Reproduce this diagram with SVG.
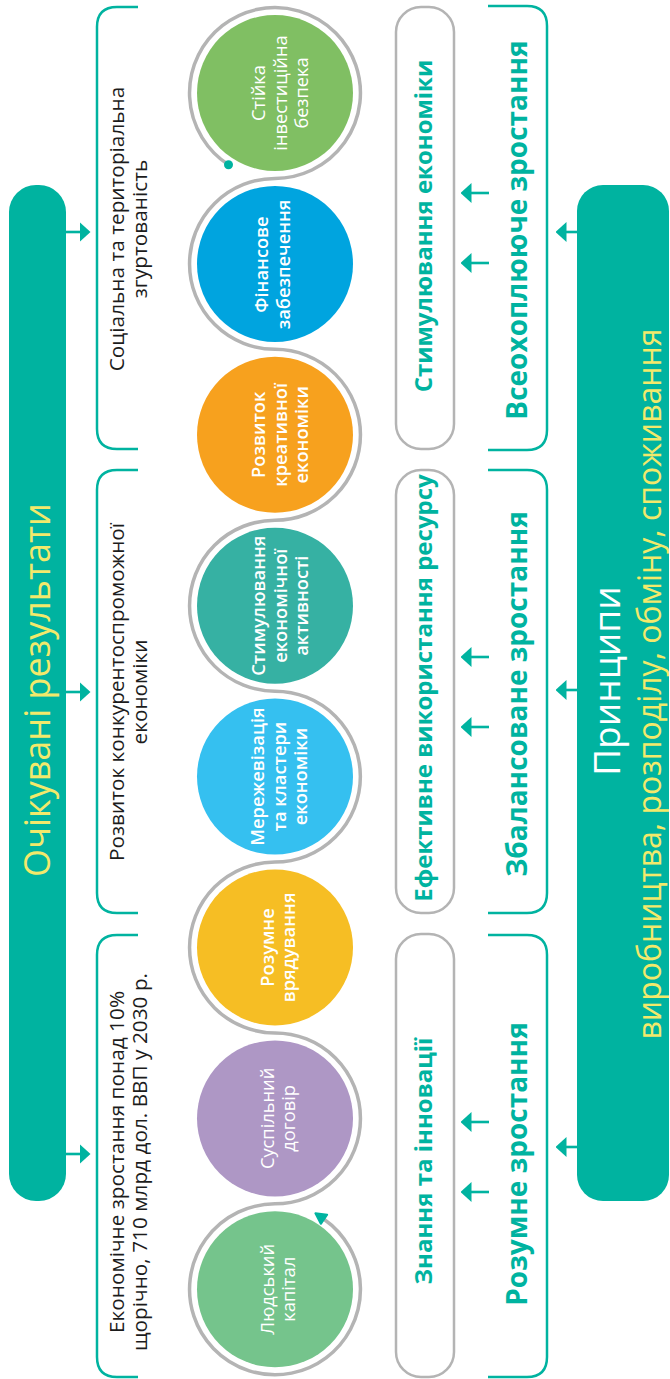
<svg xmlns="http://www.w3.org/2000/svg" width="670" height="1379" viewBox="0 0 670 1379">
<style>
text{font-family:"Open Sans","Noto Sans","DejaVu Sans",sans-serif;text-anchor:middle}
.bar{fill:#00B3A0}
.title{fill:#F2E96B;font-size:36px}
.princ{fill:#fff;font-size:37px}
.princ2{fill:#F2E96B;font-size:32px}
.goal{fill:#1c1c1c;font-size:20.8px}
.growth{fill:#00B3A0;font-size:28px;font-weight:700}
.box{fill:none;stroke:#B4B4B4;stroke-width:2.5}
.boxt{fill:#00B3A0;font-size:24px;font-weight:700}
.br{fill:none;stroke:#00B3A0;stroke-width:2.5}
.ct{fill:#fff;font-size:18.3px}
.sb{font-weight:600}
.arr{stroke:#00B3A0;stroke-width:2.6;fill:none}
.snake{fill:none;stroke:#B4B4B4;stroke-width:3.5}
</style>
<defs>
<marker id="tip" viewBox="0 0 11 20" refX="0.5" refY="10" markerWidth="11" markerHeight="20" markerUnits="userSpaceOnUse" orient="auto">
<path d="M0,0 L11,10 L0,20 Z" fill="#00B3A0"/>
</marker>
<marker id="snakeEnd" viewBox="0 0 14 14" refX="2" refY="7" markerWidth="14" markerHeight="14" markerUnits="userSpaceOnUse" orient="auto">
<path d="M2,1.5 L12.5,7 L2,12.5 Z" fill="#00B3A0" stroke="#00B3A0" stroke-width="2" stroke-linejoin="round"/>
</marker>
</defs>

<g id="results">
<rect class="bar" x="9" y="185" width="57" height="1016" rx="27"/>
<text class="title" transform="translate(50,690) rotate(-90)">Очікувані результати</text>
</g>

<g id="goal-social">
<path class="br" d="M138,7 H117 Q97,7 97,27 V429 Q97,449 117,449 H138"/>
<text class="goal" transform="translate(124,229) rotate(-90)"><tspan x="0" y="0">Соціальна та територіальна</tspan><tspan x="0" y="23">згуртованість</tspan></text>
</g>
<g id="goal-competitive">
<path class="br" d="M138,470 H117 Q97,470 97,490 V893 Q97,913 117,913 H138"/>
<text class="goal" transform="translate(124,692) rotate(-90)"><tspan x="0" y="0">Розвиток конкурентоспроможної</tspan><tspan x="0" y="23">економіки</tspan></text>
</g>
<g id="goal-growth">
<path class="br" d="M138,935 H117 Q97,935 97,955 V1357 Q97,1377 117,1377 H138"/>
<text class="goal" transform="translate(124,1162) rotate(-90)"><tspan x="0" y="0">Економічне зростання понад 10%</tspan><tspan x="0" y="23">щорічно, 710 млрд дол. ВВП у 2030 р.</tspan></text>
</g>

<g id="circle-investment">
<circle cx="275" cy="93" r="78" fill="#80BF63"/>
<text class="ct" transform="translate(265,93) rotate(-90)"><tspan x="0" y="0">Стійка</tspan><tspan x="0" y="21.5">інвестиційна</tspan><tspan x="0" y="43">безпека</tspan></text>
</g>
<g id="circle-finance">
<circle cx="275" cy="263.9" r="78" fill="#00A4DF"/>
<text class="ct sb" transform="translate(268,264.5) rotate(-90)"><tspan x="0" y="0">Фінансове</tspan><tspan x="0" y="22">забезпечення</tspan></text>
</g>
<g id="circle-creative">
<circle cx="275" cy="434.8" r="78" fill="#F7A11E"/>
<text class="ct sb" transform="translate(265,434.8) rotate(-90)"><tspan x="0" y="0">Розвиток</tspan><tspan x="0" y="21.5">креативної</tspan><tspan x="0" y="43">економіки</tspan></text>
</g>
<g id="circle-activity">
<circle cx="275" cy="605.7" r="78" fill="#36B1A3"/>
<text class="ct sb" transform="translate(265,605.7) rotate(-90)"><tspan x="0" y="0">Стимулювання</tspan><tspan x="0" y="21.5">економічної</tspan><tspan x="0" y="43">активності</tspan></text>
</g>
<g id="circle-network">
<circle cx="275" cy="776.6" r="78" fill="#35C0F0"/>
<text class="ct sb" transform="translate(264,776.6) rotate(-90)"><tspan x="0" y="0">Мережевізація</tspan><tspan x="0" y="21.5">та кластери</tspan><tspan x="0" y="43">економіки</tspan></text>
</g>
<g id="circle-governance">
<circle cx="275" cy="947.5" r="78" fill="#F6BE24"/>
<text class="ct sb" transform="translate(274,947.5) rotate(-90)"><tspan x="0" y="0">Розумне</tspan><tspan x="0" y="21">врядування</tspan></text>
</g>
<g id="circle-contract">
<circle cx="275" cy="1118.4" r="78" fill="#AE97C5"/>
<text class="ct" transform="translate(274,1118.4) rotate(-90)"><tspan x="0" y="0">Суспільний</tspan><tspan x="0" y="21">договір</tspan></text>
</g>
<g id="circle-human">
<circle cx="275" cy="1289.3" r="78" fill="#75C48C"/>
<text class="ct" transform="translate(274,1289.3) rotate(-90)"><tspan x="0" y="0">Людський</tspan><tspan x="0" y="21">капітал</tspan></text>
</g>

<g id="box-stimulus">
<rect class="box" x="396" y="7" width="58" height="442" rx="25"/>
<text class="boxt" transform="translate(432,226) rotate(-90)">Стимулювання економіки</text>
</g>
<g id="box-resources">
<rect class="box" x="396" y="470" width="58" height="443" rx="25"/>
<text class="boxt" transform="translate(432,688) rotate(-90)">Ефективне використання ресурсу</text>
</g>
<g id="box-knowledge">
<rect class="box" x="396" y="934" width="58" height="443" rx="25"/>
<text class="boxt" transform="translate(432,1161) rotate(-90)">Знання та інновації</text>
</g>

<g id="growth-inclusive">
<path class="br" d="M488,6 H527 Q547,6 547,26 V430 Q547,450 527,450 H488"/>
<text class="growth" transform="translate(527,230) rotate(-90)">Всеохоплююче зростання</text>
</g>
<g id="growth-balanced">
<path class="br" d="M488,470 H527 Q547,470 547,490 V893 Q547,913 527,913 H488"/>
<text class="growth" transform="translate(527,694) rotate(-90)">Збалансоване зростання</text>
</g>
<g id="growth-smart">
<path class="br" d="M488,935 H527 Q547,935 547,955 V1357 Q547,1377 527,1377 H488"/>
<text class="growth" transform="translate(527,1164) rotate(-90)">Розумне зростання</text>
</g>

<g id="principles">
<rect class="bar" x="577" y="185" width="92" height="1016" rx="26"/>
<text class="princ" transform="translate(620,681) rotate(-90)">Принципи</text>
<text class="princ2" transform="translate(661,684) rotate(-90)">виробництва, розподілу, обміну, споживання</text>
</g>

<g id="connectors">
<path class="snake" marker-end="url(#snakeEnd)" d="M228.5,164.7 A85.45,85.45 0 1 1 275,178.45 A85.45,85.45 0 0 0 275,349.35 A85.45,85.45 0 0 1 275,520.25 A85.45,85.45 0 0 0 275,691.15 A85.45,85.45 0 0 1 275,862.05 A85.45,85.45 0 0 0 275,1032.95 A85.45,85.45 0 0 1 275,1203.85 A85.45,85.45 0 1 0 324,1219.3"/>
<circle cx="228.5" cy="164.7" r="4.5" fill="#00B3A0"/>
<line class="arr" x1="66" y1="232" x2="80" y2="232" marker-end="url(#tip)"/>
<line class="arr" x1="66" y1="692" x2="80" y2="692" marker-end="url(#tip)"/>
<line class="arr" x1="66" y1="1154" x2="80" y2="1154" marker-end="url(#tip)"/>
<line class="arr" x1="489" y1="193" x2="471" y2="193" marker-end="url(#tip)"/>
<line class="arr" x1="489" y1="263" x2="471" y2="263" marker-end="url(#tip)"/>
<line class="arr" x1="489" y1="657" x2="471" y2="657" marker-end="url(#tip)"/>
<line class="arr" x1="489" y1="727" x2="471" y2="727" marker-end="url(#tip)"/>
<line class="arr" x1="489" y1="1122" x2="471" y2="1122" marker-end="url(#tip)"/>
<line class="arr" x1="489" y1="1192" x2="471" y2="1192" marker-end="url(#tip)"/>
<line class="arr" x1="578" y1="232" x2="566" y2="232" marker-end="url(#tip)"/>
<line class="arr" x1="578" y1="690" x2="566" y2="690" marker-end="url(#tip)"/>
<line class="arr" x1="578" y1="1147" x2="566" y2="1147" marker-end="url(#tip)"/>
</g>
</svg>
